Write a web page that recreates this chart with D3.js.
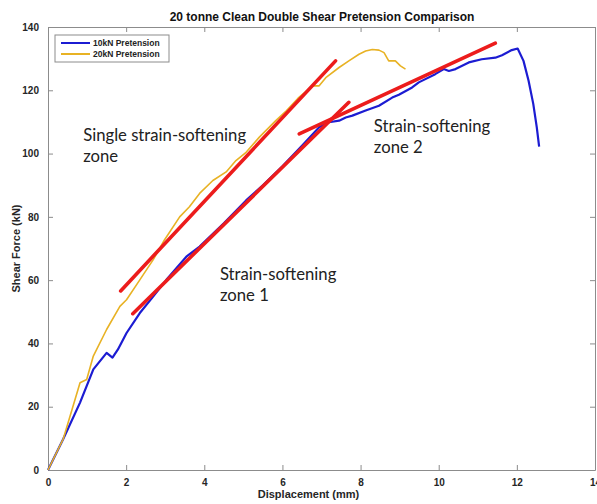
<!DOCTYPE html>
<meta charset="utf-8">
<script src="https://d3js.org/d3.v7.min.js"></script>
<style>
  body { margin: 0; background: #fff; }
</style>
<div id="my_dataviz"></div>

<script>

// 10kN pretension curve
var disp10 = [0, 0.39, 0.82, 1.16, 1.5, 1.65, 1.79, 2.01, 2.35, 2.69, 3.03, 3.54, 3.88, 4.5, 5.07, 5.5, 6.0, 6.5, 6.94, 7.19, 7.45, 7.62, 7.79, 8.13, 8.47, 8.81, 8.98, 9.32, 9.49, 9.91, 10.13, 10.26, 10.43, 10.77, 11.1, 11.45, 11.62, 11.87, 12.02, 12.17, 12.3, 12.42, 12.51, 12.57];
var force10 = [0, 9.8, 21.3, 31.8, 37.0, 35.5, 38.1, 43.3, 49.6, 54.8, 60.1, 67.4, 70.6, 78, 85.2, 90, 96, 102.5, 108.3, 109.9, 110.4, 111.4, 112, 113.6, 115.1, 117.7, 118.6, 120.9, 122.5, 125.1, 126.7, 126.1, 126.7, 128.8, 129.8, 130.3, 131.1, 132.7, 133.2, 129.3, 123, 115.7, 108.3, 102.2];

// 20kN pretension curve
var disp20 = [0, 0.39, 0.82, 0.99, 1.16, 1.5, 1.84, 2.01, 2.35, 2.69, 2.98, 3.37, 3.62, 3.88, 4.22, 4.56, 4.81, 5.07, 5.41, 5.83, 6.1, 6.4, 6.77, 6.94, 7.11, 7.45, 7.7, 7.96, 8.13, 8.3, 8.47, 8.6, 8.72, 8.89, 9.02, 9.15];
var force20 = [0, 9.8, 27.6, 28.6, 36, 44.4, 51.7, 53.8, 60.1, 66.4, 72.7, 80, 83.2, 87.4, 91.5, 94.2, 97.8, 100.4, 105.2, 110.4, 113.5, 117.5, 121.4, 121.4, 124, 127.2, 129.3, 131.4, 132.4, 132.9, 132.7, 131.9, 129.3, 129.3, 127.7, 126.7];

// red trend lines drawn over the curves
var fitX0 = [1.86, 2.17, 6.43];
var fitY0 = [56.6, 49.4, 106.2];
var fitX1 = [7.36, 7.70, 11.45];
var fitY1 = [129.3, 116.2, 134.9];

// annotations (anchored in data units)
var noteLines = [["Single strain-softening", "zone"], ["Strain-softening", "zone 1"], ["Strain-softening", "zone 2"]];
var noteX = [0.90, 4.40, 8.34];
var noteY = [104.1, 60, 106.9];

var xTicks = [0, 2, 4, 6, 8, 10, 12, 14];
var yTicks = [0, 20, 40, 60, 80, 100, 120, 140];
var seriesNames = ["10kN Pretension", "20kN Pretension"];
var seriesColors = ["#1c1cd2", "#e8b224"];

var margin = {top: 27, right: 2, bottom: 34, left: 48},
    width = 597 - margin.left - margin.right,
    height = 504 - margin.top - margin.bottom;

var svg = d3.select("#my_dataviz")
  .append("svg")
    .attr("width", 597)
    .attr("height", 504)
  .append("g")
    .attr("transform", "translate(" + margin.left + "," + margin.top + ")");

var x = d3.scaleLinear().domain([0, 14]).range([0, width]);
var y = d3.scaleLinear().domain([0, 140]).range([height, 0]);

var axisColor = "#8c8c8c";
var tickFont = "'Liberation Sans', Arial, sans-serif";

// axes with inward ticks, MATLAB box style
function styleAxis(g) {
  g.select(".domain").attr("stroke", axisColor).attr("stroke-width", 1);
  g.selectAll(".tick line").attr("stroke", axisColor);
  g.selectAll(".tick text")
    .attr("fill", "#262626")
    .style("font-family", tickFont)
    .style("font-weight", "bold")
    .style("font-size", "10px");
}

svg.append("g")
  .attr("transform", "translate(0," + height + ")")
  .call(d3.axisBottom(x).tickValues(xTicks).tickSizeInner(-5).tickSizeOuter(0).tickPadding(9))
  .call(styleAxis);

svg.append("g")
  .call(d3.axisLeft(y).tickValues(yTicks).tickSizeInner(-5).tickSizeOuter(0).tickPadding(9))
  .call(styleAxis);

svg.append("g")
  .call(d3.axisTop(x).tickValues(xTicks).tickSizeInner(-5).tickSizeOuter(0).tickFormat(""))
  .call(styleAxis);

svg.append("g")
  .attr("transform", "translate(" + width + ",0)")
  .call(d3.axisRight(y).tickValues(yTicks).tickSizeInner(-5).tickSizeOuter(0).tickFormat(""))
  .call(styleAxis);

// curves
var line = d3.line()
  .x(function(d) { return x(d[0]); })
  .y(function(d) { return y(d[1]); });

var data10 = d3.zip(disp10, force10);
var data20 = d3.zip(disp20, force20);

svg.append("path")
  .datum(data10)
  .attr("fill", "none")
  .attr("stroke", seriesColors[0])
  .attr("stroke-width", 2.2)
  .attr("stroke-linejoin", "round")
  .attr("d", line);

svg.append("path")
  .datum(data20)
  .attr("fill", "none")
  .attr("stroke", seriesColors[1])
  .attr("stroke-width", 1.6)
  .attr("stroke-linejoin", "round")
  .attr("d", line);

// red trend lines
svg.selectAll("fitlines")
  .data(d3.range(fitX0.length))
  .enter()
  .append("line")
    .attr("x1", function(i) { return x(fitX0[i]); })
    .attr("y1", function(i) { return y(fitY0[i]); })
    .attr("x2", function(i) { return x(fitX1[i]); })
    .attr("y2", function(i) { return y(fitY1[i]); })
    .attr("stroke", "#ec1c1c")
    .attr("stroke-width", 3.6)
    .attr("stroke-linecap", "round");

// annotations
noteLines.forEach(function(lines, i) {
  var t = svg.append("text")
    .attr("x", x(noteX[i]))
    .attr("y", y(noteY[i]))
    .attr("fill", "#222")
    .style("font-family", "Lato, 'Open Sans', sans-serif")
    .style("font-size", "16.7px");
  lines.forEach(function(s, j) {
    t.append("tspan")
      .attr("x", x(noteX[i]))
      .attr("dy", j === 0 ? 0 : 21)
      .text(s);
  });
});

// title and axis labels
svg.append("text")
  .attr("x", 274)
  .attr("y", -6)
  .attr("text-anchor", "middle")
  .attr("fill", "#111")
  .style("font-family", tickFont)
  .style("font-weight", "bold")
  .style("font-size", "12px")
  .text("20 tonne Clean Double Shear Pretension Comparison");

svg.append("text")
  .attr("x", width / 2 - 13)
  .attr("y", height + 28)
  .attr("text-anchor", "middle")
  .attr("fill", "#262626")
  .style("font-family", tickFont)
  .style("font-weight", "bold")
  .style("font-size", "11px")
  .text("Displacement (mm)");

svg.append("text")
  .attr("transform", "rotate(-90)")
  .attr("x", -(height / 2))
  .attr("y", -28)
  .attr("text-anchor", "middle")
  .attr("fill", "#262626")
  .style("font-family", tickFont)
  .style("font-weight", "bold")
  .style("font-size", "11px")
  .text("Shear Force (kN)");

// legend
var legend = svg.append("g").attr("transform", "translate(7,8)");
legend.append("rect")
  .attr("width", 114)
  .attr("height", 27)
  .attr("fill", "#fff")
  .attr("stroke", axisColor)
  .attr("stroke-width", 1);

seriesNames.forEach(function(name, i) {
  legend.append("line")
    .attr("x1", 6).attr("x2", 35)
    .attr("y1", 8 + i * 11).attr("y2", 8 + i * 11)
    .attr("stroke", seriesColors[i])
    .attr("stroke-width", 2);
  legend.append("text")
    .attr("x", 38)
    .attr("y", 11 + i * 11)
    .attr("fill", "#222")
    .style("font-family", tickFont)
    .style("font-weight", "bold")
    .style("font-size", "8.5px")
    .text(name);
});

</script>
